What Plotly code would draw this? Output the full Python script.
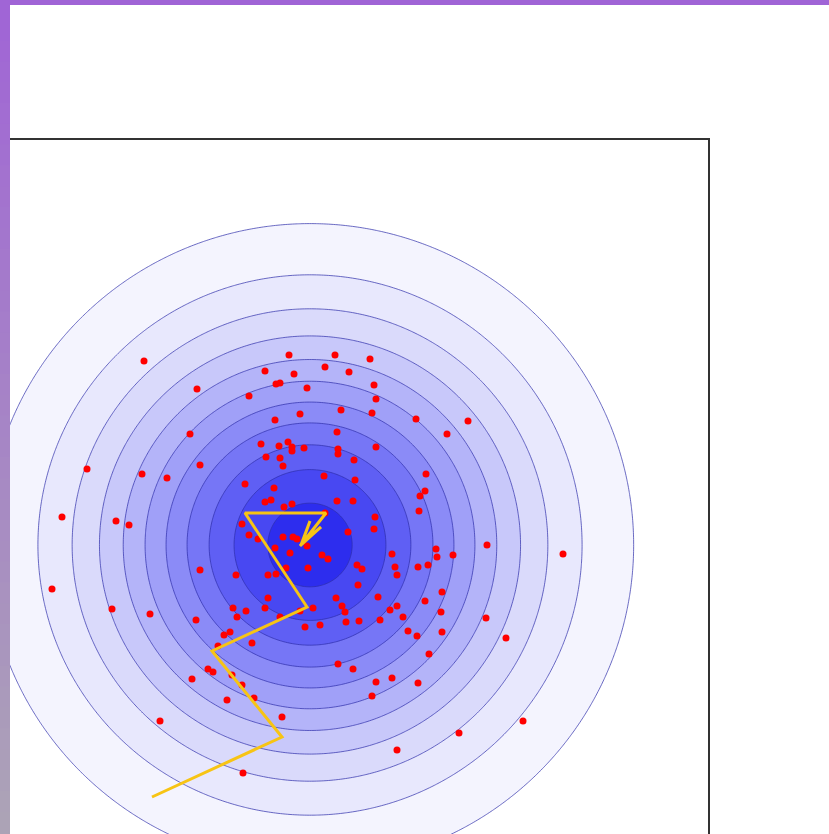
import numpy as np
import plotly.graph_objects as go

# ---- red sample points (data units) ----
pts_x = [-1.66, -1.13, -1.20, -1.10, -2.23, -1.68, -1.43, -2.48, -1.94, -1.81,
         -0.21, 0.25, 0.60, 0.15, -0.45, 0.39, -0.16, -0.34, -0.30, 0.64,
         -0.03, -0.61, 0.66, 0.31, 0.62, -0.10, -0.35, 0.27, -0.49, -0.31,
         -0.22, -0.18, -0.18, -0.06, 0.66, 0.28, 0.28, -0.44, -0.30, -0.27,
         0.44, 0.14, 0.45, -0.65, -0.36, 0.27, 0.43, -0.45, -0.39, -0.18,
         -0.26, 0.15, 0.65, 0.64, -0.68, -0.61, -0.52, 0.38, -0.27, -0.17,
         -0.13, -0.03, -0.35, -0.20, 0.12, 0.18, 0.82, -0.02, -0.24, 0.47,
         0.52, 0.85, -0.74, -0.42, -0.34, 0.87, 0.48, 0.26, 0.68, -0.42,
         -0.77, -0.64, -0.45, 0.03, 0.32, 0.35, 0.80, 0.87, -0.73, -0.30,
         -0.10, -0.05, 0.10, 0.36, 0.49, 0.70, -0.86, -0.80, -0.58, 0.28,
         0.43, 0.66, 0.82, 0.62, -0.78, -0.68, -0.83, -0.56, -0.28, 0.87,
         -0.67, -1.10, -2.58, -1.98, -1.60, -1.14, -0.92, -1.02, -0.97, -1.18,
         -1.50, 1.06, 1.58, 1.37, 1.16, 1.15, 1.10, 1.09, 1.77, 1.26,
         1.27, 1.43, 2.53, 1.18, 1.08, 1.32, 1.15, 1.31, 0.93, 1.76,
         0.98, 1.07, 1.32, 1.96, 1.19, 1.08, 2.13, 1.49]
pts_y = [1.84, 1.56, 1.11, 0.80, 0.76, 0.71, 0.67, 0.28, 0.24, 0.20,
         1.90, 1.90, 1.86, 1.78, 1.74, 1.73, 1.71, 1.61, 1.62, 1.60,
         1.57, 1.49, 1.46, 1.35, 1.32, 1.31, 1.25, 1.13, 1.01, 0.99,
         1.03, 0.98, 0.94, 0.97, 0.98, 0.96, 0.91, 0.88, 0.87, 0.79,
         0.85, 0.69, 0.65, 0.61, 0.57, 0.44, 0.44, 0.43, 0.45, 0.41,
         0.38, 0.32, 0.28, 0.16, 0.21, 0.10, 0.06, 0.13, 0.08, 0.08,
         0.06, -0.01, -0.03, -0.08, -0.10, -0.14, -0.09, -0.23, -0.23, -0.20,
         -0.24, -0.22, -0.30, -0.30, -0.29, -0.30, -0.40, -0.53, -0.52, -0.53,
         -0.63, -0.66, -0.63, -0.63, -0.61, -0.67, -0.65, -0.61, -0.72, -0.72,
         -0.66, -0.82, -0.80, -0.77, -0.76, -0.75, -0.90, -0.87, -0.98, -1.19,
         -1.24, -1.37, -1.33, -1.51, -1.30, -1.40, -1.55, -1.53, -1.72, -2.05,
         -2.28, -0.25, -0.44, -0.64, -0.69, -0.75, -1.01, -1.24, -1.27, -1.34,
         -1.76, 1.26, 1.24, 1.11, 0.71, 0.54, 0.49, 0.34, 0.00, -0.04,
         -0.12, -0.10, -0.09, -0.20, -0.22, -0.47, -0.56, -0.67, -0.72, -0.73,
         -0.86, -0.91, -0.87, -0.93, -1.09, -1.38, -1.76, -1.88]

# ---- yellow descent path ----
path_x = [-1.58, -0.28, -0.98, -0.03, -0.65, 0.16, -0.10, 0.11, -0.08, 0.00, -0.09]
path_y = [-2.52, -1.92, -1.06, -0.62, 0.32, 0.32, -0.01, 0.18, 0.02, 0.24, 0.00]

# ---- background density surface parameters ----
center_x, center_y = 0.0, 0.0
sigma_x, sigma_y = 1.44, 1.43
level_start, level_end, level_size = 0.08, 0.96, 0.0878

x_range = [-3.05, 3.98]
y_range = [-2.89, 4.05]

gx = np.linspace(-3.4, 4.3, 321)
gy = np.linspace(-3.2, 4.4, 321)
X, Y = np.meshgrid(gx, gy)
Z = np.exp(-((X - center_x) ** 2 / (2 * sigma_x ** 2) + (Y - center_y) ** 2 / (2 * sigma_y ** 2)))

colorscale = [
    [0.00, "rgb(255,255,255)"],
    [0.12, "rgb(241,241,254)"],
    [0.30, "rgb(214,214,251)"],
    [0.50, "rgb(170,170,248)"],
    [0.70, "rgb(125,125,246)"],
    [0.88, "rgb(80,80,243)"],
    [1.00, "rgb(45,45,238)"],
]

fig = go.Figure()
fig.add_trace(go.Contour(
    x=gx, y=gy, z=Z,
    contours=dict(start=level_start, end=level_end, size=level_size, coloring="fill"),
    colorscale=colorscale,
    zmin=0.0, zmax=1.0,
    showscale=False,
    line=dict(color="rgba(45,45,170,0.7)", width=1),
    hoverinfo="skip",
))
fig.add_trace(go.Scatter(
    x=pts_x, y=pts_y, mode="markers",
    marker=dict(color="#ff0000", size=7, line=dict(width=0)),
    showlegend=False,
))
fig.add_trace(go.Scatter(
    x=path_x, y=path_y, mode="lines",
    line=dict(color="#f7c414", width=3),
    showlegend=False,
))

W, H = 829, 834
ml, mr, mt, mb = 5, 121, 140, 0
pw, ph = W - ml - mr, H - mt - mb

shapes = []
# top purple band
shapes.append(dict(type="rect", xref="paper", yref="paper",
                   x0=-0.05, x1=1.3, y0=1 + (mt - 5) / ph, y1=1.3,
                   fillcolor="rgb(160,100,214)", line=dict(width=0), layer="above"))
# left purple band with vertical gradient
n = 40
c0 = np.array([160, 100, 214])
c1 = np.array([172, 164, 182])
for i in range(n):
    t = (i + 0.5) / n
    c = c0 + (c1 - c0) * t
    ytop = 1 + mt / ph - i * (H / n) / ph
    ybot = 1 + mt / ph - (i + 1) * (H / n) / ph
    shapes.append(dict(type="rect", xref="paper", yref="paper",
                       x0=-0.05, x1=5 / pw, y0=ybot - 0.002, y1=ytop + 0.002,
                       fillcolor="rgb(%d,%d,%d)" % tuple(c.round().astype(int)),
                       line=dict(width=0), layer="above"))

fig.update_layout(
    width=W, height=H,
    margin=dict(l=ml, r=mr, t=mt, b=mb, pad=0),
    paper_bgcolor="white", plot_bgcolor="white",
    showlegend=False,
    shapes=shapes,
    xaxis=dict(range=x_range, side="top", showline=True, linecolor="#333333", linewidth=2,
               showgrid=False, zeroline=False, showticklabels=False, ticks=""),
    yaxis=dict(range=y_range, side="right", showline=True, linecolor="#333333", linewidth=2,
               showgrid=False, zeroline=False, showticklabels=False, ticks=""),
)

fig.write_html("out.html", config={"displayModeBar": False},
               post_script="document.body.style.margin='0';document.body.style.overflow='hidden';")
